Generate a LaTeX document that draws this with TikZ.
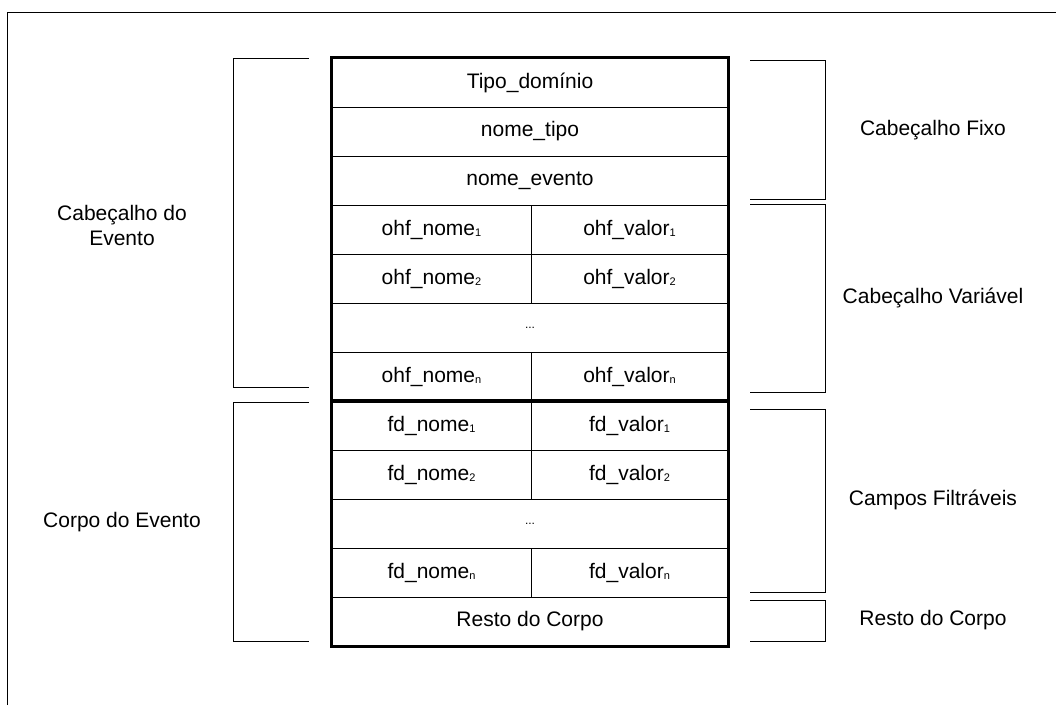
\documentclass[tikz,border=0pt]{standalone}
\usepackage{fontspec}
\setmainfont{Liberation Sans}
\newcommand{\sbs}[1]{\raisebox{-0.15ex}{\fontsize{11}{12}\selectfont #1}}
\begin{document}
\begin{tikzpicture}[x=1pt,y=-1pt,
  cell/.style={draw, line width=0.9pt, inner sep=0pt, minimum height=49pt, font=\fontsize{21}{24}\selectfont},
  full/.style={cell, minimum width=396pt},
  lcell/.style={cell, minimum width=199pt},
  rcell/.style={cell, minimum width=197pt},
  lbl/.style={font=\fontsize{21}{25}\selectfont, align=center, inner sep=0pt},
  brk/.style={line width=1pt}]
\useasboundingbox (0,0) rectangle (1056,705);
\fill[white] (0,0) rectangle (1056,705);
% outer frame
\draw[line width=0.9pt] (7,705) -- (7,12) -- (1056,12);
% rows
\node[full] (r1) at (530,82.5) {Tipo\_domínio};
\node[full] (r2) at (530,131.5) {nome\_tipo};
\node[full] (r3) at (530,180.5) {nome\_evento};
\node[lcell] (h1n) at (431.5,229.5) {ohf\_nome\sbs{1}};
\node[rcell] (h1v) at (629.5,229.5) {ohf\_valor\sbs{1}};
\node[lcell] (h2n) at (431.5,278.5) {ohf\_nome\sbs{2}};
\node[rcell] (h2v) at (629.5,278.5) {ohf\_valor\sbs{2}};
\node[full] (hd) at (530,327.5) {\fontsize{12}{12}\selectfont ...};
\node[lcell] (hnn) at (431.5,376.5) {ohf\_nome\sbs{n}};
\node[rcell] (hnv) at (629.5,376.5) {ohf\_valor\sbs{n}};
\node[lcell] (f1n) at (431.5,425.5) {fd\_nome\sbs{1}};
\node[rcell] (f1v) at (629.5,425.5) {fd\_valor\sbs{1}};
\node[lcell] (f2n) at (431.5,474.5) {fd\_nome\sbs{2}};
\node[rcell] (f2v) at (629.5,474.5) {fd\_valor\sbs{2}};
\node[full] (fd) at (530,523.5) {\fontsize{12}{12}\selectfont ...};
\node[lcell] (fnn) at (431.5,572.5) {fd\_nome\sbs{n}};
\node[rcell] (fnv) at (629.5,572.5) {fd\_valor\sbs{n}};
\node[full] (rc) at (530,621.5) {Resto do Corpo};
% thick borders
\draw[line width=3pt] (r1.north west) rectangle (rc.south east);
\draw[line width=4pt] (hnn.south west) -- (hnv.south east);
% left brackets
\draw[brk] (309,58) -- (233,58) -- (233,387) -- (309,387);
\draw[brk] (309,402) -- (233,402) -- (233,641) -- (309,641);
% right brackets
\draw[brk] (750,60) -- (825,60) -- (825,199) -- (750,199);
\draw[brk] (750,204) -- (825,204) -- (825,392) -- (750,392);
\draw[brk] (750,409) -- (825,409) -- (825,592) -- (750,592);
\draw[brk] (750,600) -- (825,600) -- (825,641) -- (750,641);
% labels
\node[lbl] (ce) at (122,225) {Cabeçalho do\\Evento};
\node[lbl] (co) at (122,522) {Corpo do Evento};
\node[lbl] (cf) at (933,130) {Cabeçalho Fixo};
\node[lbl] (cv) at (933,298) {Cabeçalho Variável};
\node[lbl] (cff) at (933,500) {Campos Filtráveis};
\node[lbl] (rco) at (933,620) {Resto do Corpo};
\end{tikzpicture}
\end{document}
